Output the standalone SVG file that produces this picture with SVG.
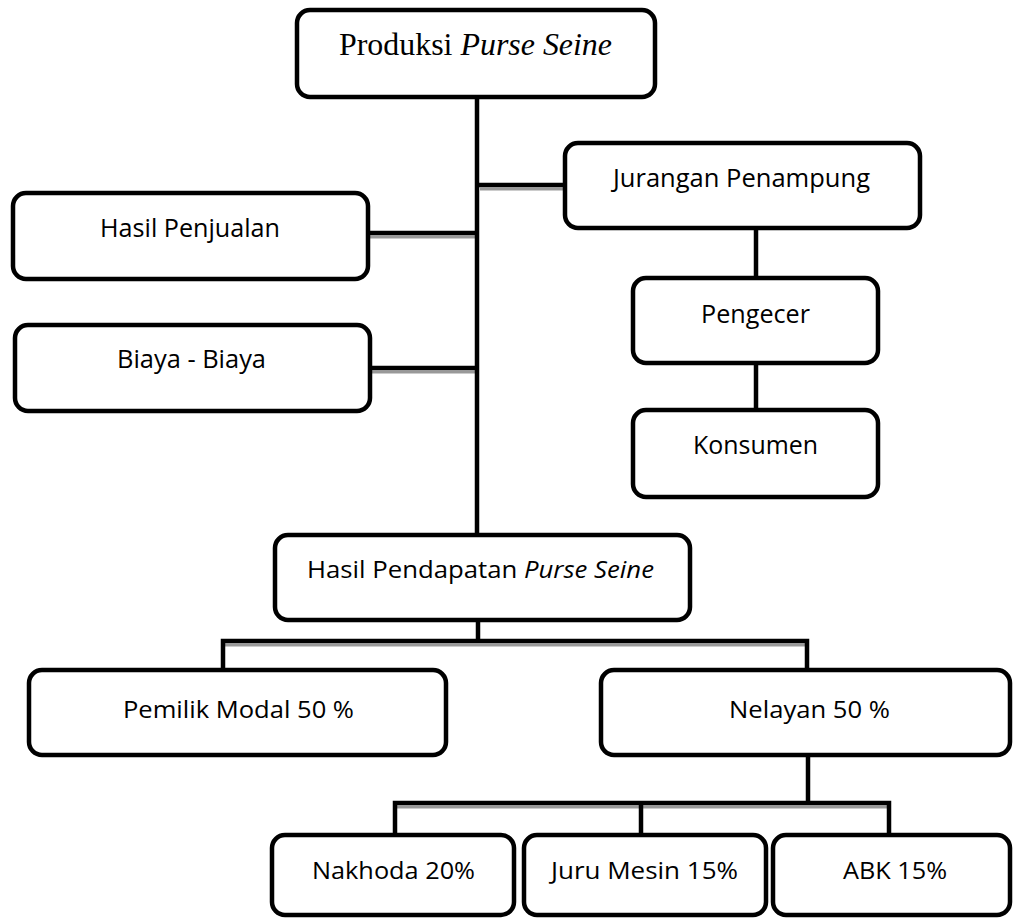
<svg xmlns="http://www.w3.org/2000/svg" width="1013" height="919" viewBox="0 0 1013 919">
<style>
.box{fill:#fff;stroke:#000;stroke-width:4.5}
.t{font-family:"Open Sans","Liberation Sans",sans-serif;font-size:26px;fill:#000}
.b{font-size:24px}
.s{font-family:"Liberation Serif","Times New Roman",serif;font-size:31px;fill:#000}
.c{stroke:#000;stroke-width:4.5;fill:none}
.g{stroke:#999;stroke-width:3;fill:none}
</style>
<rect width="1013" height="919" fill="#fff"/>
<g id="connectors">
<line class="g" x1="480" y1="189" x2="565" y2="189"/>
<line class="g" x1="368" y1="237" x2="475" y2="237"/>
<line class="g" x1="370" y1="372" x2="475" y2="372"/>
<line class="g" x1="225" y1="645" x2="805" y2="645"/>
<line class="g" x1="397" y1="807" x2="887" y2="807"/>
<line class="c" x1="477" y1="97" x2="477" y2="537"/>
<line class="c" x1="477" y1="185" x2="565" y2="185"/>
<line class="c" x1="368" y1="233" x2="477" y2="233"/>
<line class="c" x1="370" y1="368" x2="477" y2="368"/>
<line class="c" x1="756" y1="228" x2="756" y2="278"/>
<line class="c" x1="756" y1="363" x2="756" y2="410"/>
<line class="c" x1="478" y1="620" x2="478" y2="642"/>
<polyline class="c" points="223,672 223,641 807,641 807,672"/>
<line class="c" x1="808" y1="755" x2="808" y2="805"/>
<polyline class="c" points="395,837 395,803 889,803 889,837"/>
<line class="c" x1="641" y1="803" x2="641" y2="837"/>
</g>
<g id="produksi"><rect class="box" x="297" y="10" width="358" height="87" rx="13"/><text class="s" x="339" y="55" textLength="273" lengthAdjust="spacingAndGlyphs">Produksi <tspan font-style="italic">Purse Seine</tspan></text></g>
<g id="jurangan"><rect class="box" x="565" y="143" width="355" height="85" rx="13"/><text class="t" x="613" y="187" textLength="257" lengthAdjust="spacingAndGlyphs">Jurangan Penampung</text></g>
<g id="hasil-penjualan"><rect class="box" x="13" y="193" width="355" height="86" rx="13"/><text class="t" x="100" y="237" textLength="180" lengthAdjust="spacingAndGlyphs">Hasil Penjualan</text></g>
<g id="biaya"><rect class="box" x="15" y="325" width="355" height="86" rx="13"/><text class="t" x="117" y="368" textLength="149" lengthAdjust="spacingAndGlyphs">Biaya - Biaya</text></g>
<g id="pengecer"><rect class="box" x="633" y="278" width="245" height="85" rx="13"/><text class="t" x="701" y="323" textLength="109" lengthAdjust="spacingAndGlyphs">Pengecer</text></g>
<g id="konsumen"><rect class="box" x="633" y="410" width="245" height="87" rx="13"/><text class="t" x="693" y="454" textLength="125" lengthAdjust="spacingAndGlyphs">Konsumen</text></g>
<g id="pendapatan"><rect class="box" x="275" y="535" width="415" height="85" rx="13"/><text class="t b" x="307" y="578" textLength="347" lengthAdjust="spacingAndGlyphs">Hasil Pendapatan <tspan font-style="italic">Purse Seine</tspan></text></g>
<g id="pemilik"><rect class="box" x="29" y="670" width="417" height="85" rx="13"/><text class="t b" x="123" y="718" textLength="231" lengthAdjust="spacingAndGlyphs">Pemilik Modal 50 %</text></g>
<g id="nelayan"><rect class="box" x="601" y="670" width="409" height="85" rx="13"/><text class="t b" x="729" y="718" textLength="161" lengthAdjust="spacingAndGlyphs">Nelayan 50 %</text></g>
<g id="nakhoda"><rect class="box" x="272" y="835" width="242" height="80" rx="13"/><text class="t b" x="312" y="879" textLength="163" lengthAdjust="spacingAndGlyphs">Nakhoda 20%</text></g>
<g id="juru-mesin"><rect class="box" x="524" y="835" width="242" height="80" rx="13"/><text class="t b" x="551" y="879" textLength="187" lengthAdjust="spacingAndGlyphs">Juru Mesin 15%</text></g>
<g id="abk"><rect class="box" x="773" y="835" width="237" height="80" rx="13"/><text class="t b" x="843" y="879" textLength="104" lengthAdjust="spacingAndGlyphs">ABK 15%</text></g>
</svg>
